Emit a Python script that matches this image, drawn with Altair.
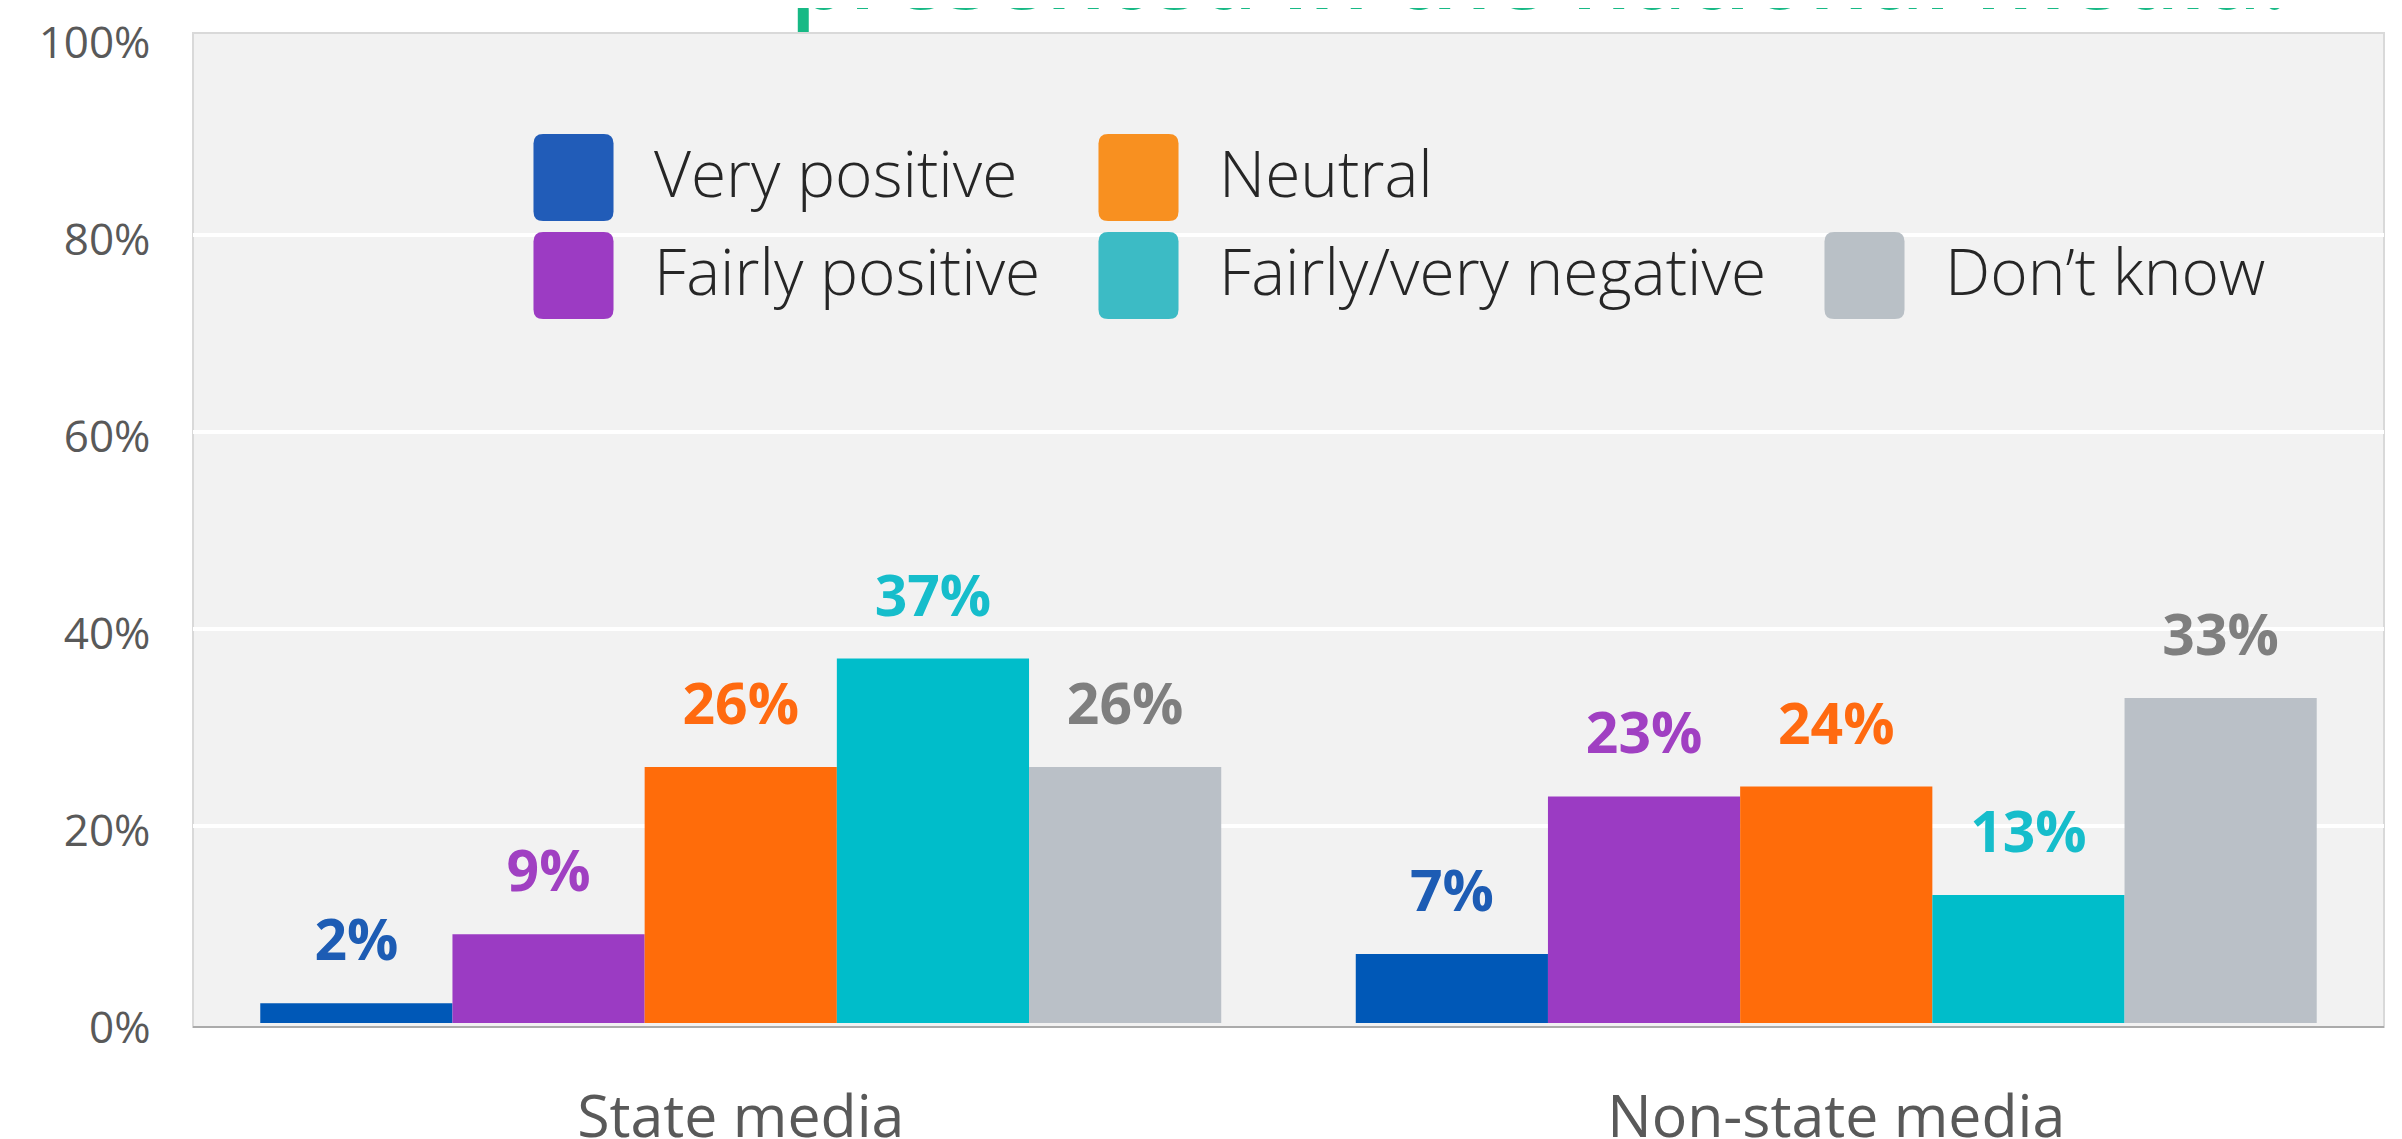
import altair as alt
import pandas as pd

# ---------------- data ----------------
MEDIA = ["State media", "Non-state media"]
CATEGORIES = ["Very positive", "Fairly positive", "Neutral", "Fairly/very negative", "Don’t know"]
STATE_VALUES = [2, 9, 26, 37, 26]
NONSTATE_VALUES = [7, 23, 24, 13, 33]
Y_TICKS = [0, 20, 40, 60, 80, 100]
GRID_VALUES = [20, 40, 60, 80]
TITLE_TEXT = ["presented in the national media."]

# ---------------- styles ----------------
BAR_COLORS = ["#0058B7", "#9B3BC3", "#FF6C0A", "#00BDCA", "#BAC0C7"]
LABEL_COLORS = ["#1D5CB4", "#A040C2", "#FF6A10", "#16BDCB", "#7F7F7F"]
LEGEND_COLORS = ["#215CB8", "#9C3BC3", "#F89020", "#3CBBC5", "#B9C0C6"]

# legend grid is filled column by column (2 rows x 3 columns), third column has an empty top slot
LEGEND_ORDER = CATEGORIES[:4] + [" "] + CATEGORIES[4:]
LEGEND_RANGE = LEGEND_COLORS[:4] + ["transparent"] + LEGEND_COLORS[4:]
ROUNDED = ("M-0.70,-1L0.70,-1Q0.92,-1 0.92,-0.78L0.92,0.78Q0.92,1 0.70,1"
           "L-0.70,1Q-0.92,1 -0.92,0.78L-0.92,-0.78Q-0.92,-1 -0.70,-1Z")

Y_DOMAIN = [-0.5076, 103.0457]
W, H = 2191, 1020
LABEL_GREY = "#595959"

rows = []
for media, vals in zip(MEDIA, [STATE_VALUES, NONSTATE_VALUES]):
    for cat, v in zip(CATEGORIES, vals):
        rows.append({"media": media, "category": cat, "value": v, "label": f"{v}%"})
df = pd.DataFrame(rows)

yscale = alt.Scale(domain=Y_DOMAIN, nice=False, zero=False)
yaxis = alt.Axis(values=Y_TICKS, title=None, labelExpr="datum.value + '%'",
                 labelFont="Open Sans", labelFontSize=44, labelColor=LABEL_GREY,
                 labelPadding=43, labelOffset=6, ticks=False, domain=False, grid=False)
x_enc = alt.X(
    "media:N", sort=MEDIA,
    scale=alt.Scale(paddingInner=0.1228, paddingOuter=0.0614),
    axis=alt.Axis(title=None, labelAngle=0, labelFont="Open Sans", labelFontSize=59,
                  labelColor=LABEL_GREY, labelPadding=108, labelBaseline="alphabetic",
                  labelLimit=0, ticks=False, tickSize=0, domain=False, grid=False),
)
xo_enc = alt.XOffset("category:N", sort=CATEGORIES,
                     scale=alt.Scale(paddingInner=0, paddingOuter=0))

# background panel
box = alt.Chart(pd.DataFrame({"k": [0]})).mark_rect(
    fill="#F2F2F2", stroke="#D9D9D9", strokeWidth=2
).encode(
    x=alt.value(0), x2=alt.value("width"),
    y=alt.Y(datum=100.5, scale=yscale, axis=yaxis), y2=alt.datum(-0.4),
)
bottom_line = alt.Chart(pd.DataFrame({"k": [0]})).mark_rule(
    color="#ABABAB", strokeWidth=2
).encode(
    x=alt.value(0), x2=alt.value("width"),
    y=alt.Y(datum=-0.4, scale=yscale, axis=yaxis),
)
grid = alt.Chart(pd.DataFrame({"g": GRID_VALUES})).mark_rule(
    color="white", strokeWidth=4
).encode(
    x=alt.value(0), x2=alt.value("width"),
    y=alt.Y("g:Q", scale=yscale, axis=yaxis),
)

bars = alt.Chart(df).mark_bar().encode(
    x=x_enc, xOffset=xo_enc,
    y=alt.Y("value:Q", stack=None, scale=yscale, axis=yaxis),
    y2=alt.datum(0),
    color=alt.Color("category:N", sort=CATEGORIES,
                    scale=alt.Scale(domain=CATEGORIES, range=BAR_COLORS), legend=None),
)

labels = alt.Chart(df).mark_text(
    font="Open Sans", fontWeight="bold", fontSize=57, baseline="alphabetic", dy=-43
).encode(
    x=x_enc, xOffset=xo_enc,
    y=alt.Y("value:Q", stack=None, scale=yscale, axis=yaxis),
    text="label:N",
    color=alt.Color("category:N",
                    scale=alt.Scale(domain=CATEGORIES, range=LABEL_COLORS), legend=None),
)

legend_layer = alt.Chart(df).mark_bar(opacity=0).encode(
    x=x_enc, xOffset=xo_enc,
    y=alt.Y("value:Q", stack=None, scale=yscale, axis=yaxis), y2=alt.datum(0),
    color=alt.Color(
        "category:N",
        scale=alt.Scale(domain=LEGEND_ORDER, range=LEGEND_RANGE),
        legend=alt.Legend(
            title=None, orient="none", legendX=337, legendY=126, columns=3,
            symbolType=ROUNDED, symbolSize=7569, symbolOpacity=1, symbolStrokeWidth=0,
            labelFont="Open Sans", labelFontWeight=300, labelFontSize=64,
            labelColor="#262626", labelOffset=37, labelLimit=0,
            columnPadding=54, rowPadding=11, padding=0, gridAlign="each",
        ),
    ),
)

title = alt.Chart(pd.DataFrame({"t": TITLE_TEXT})).mark_text(
    clip=True, align="left", baseline="alphabetic", font="Open Sans",
    fontWeight=600, fontSize=95, color="#17B985"
).encode(x=alt.value(597), y=alt.value(1), text="t:N")

chart = alt.layer(
    box, grid, bottom_line, bars, labels, legend_layer, title
).resolve_scale(color="independent").properties(
    width=W, height=H,
    autosize=alt.AutoSizeParams(type="none"),
    padding={"left": 185, "top": 0, "right": 10, "bottom": 111},
    background="white",
).configure_view(stroke=None)

chart.save("out.html", embed_options={"renderer": "svg", "actions": False})
